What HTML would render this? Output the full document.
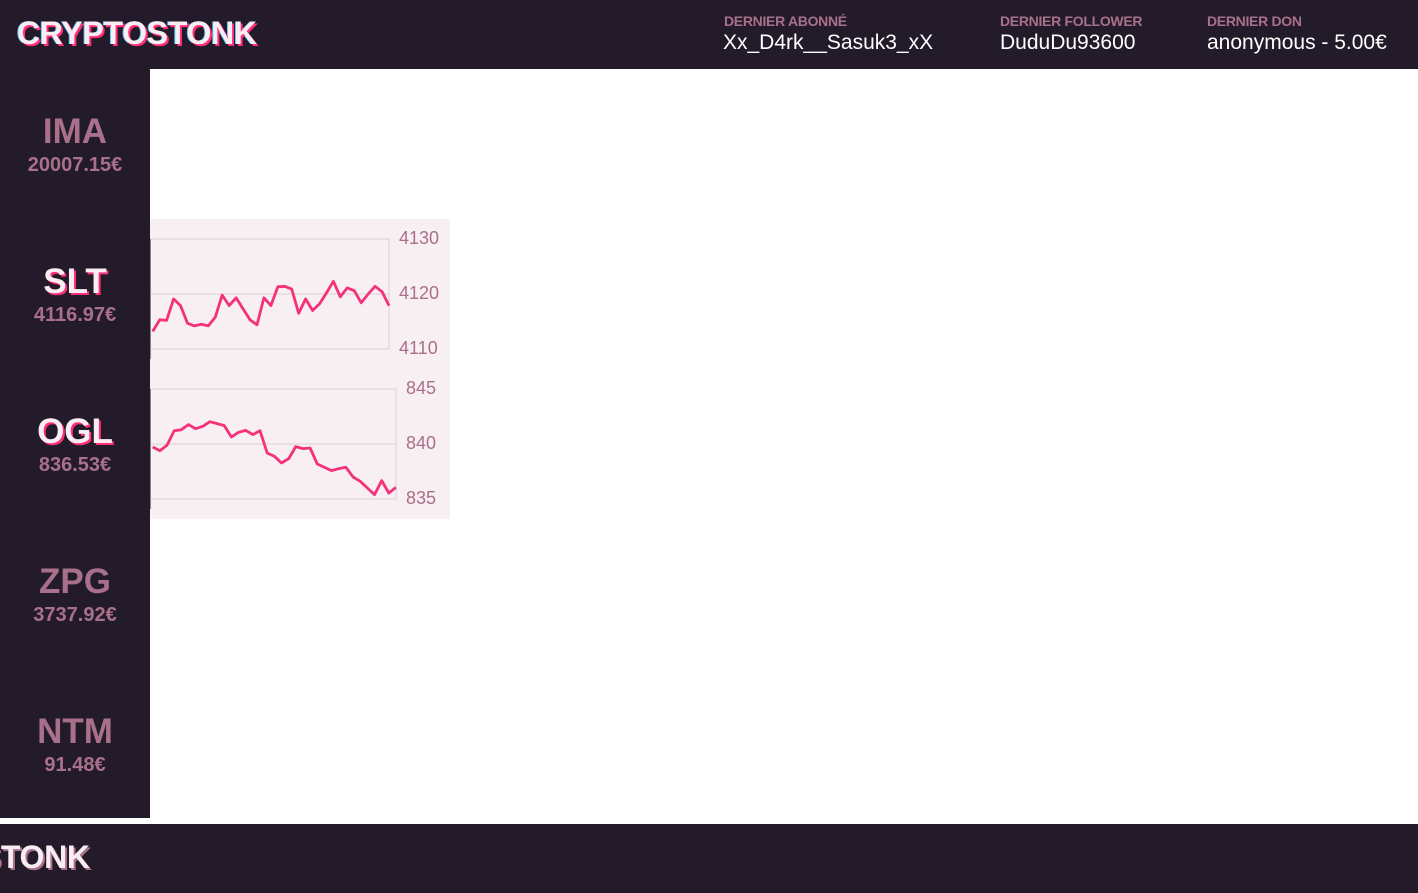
<!DOCTYPE html>
<html><head><meta charset="utf-8">
<style>
*{margin:0;padding:0;box-sizing:border-box}
body{width:1418px;height:893px;background:#fff;position:relative;overflow:hidden;font-family:"Liberation Sans",sans-serif}
.dark{background:#241b2a;position:absolute;overflow:hidden}
.logo{position:absolute;font-weight:900;font-size:32px;color:#f8eef2;letter-spacing:-0.3px;white-space:nowrap;text-shadow:2px 2px 0 #ff2e78,-1px 0 0 #5cc8ff}
.lbl{position:absolute;top:13px;font-size:14px;font-weight:bold;color:#a8708a;letter-spacing:-0.3px}
.val{position:absolute;top:31px;font-size:21px;color:#fff}
.tk{position:absolute;width:150px;text-align:center}
.tk .s{font-size:35px;font-weight:bold;color:#a8708a}
.tk .p{font-size:20px;font-weight:bold;color:#a8708a;margin-top:2px}
.tk.act .s{color:#f8eef2;text-shadow:2px 2px 0 #ff2e78}
</style></head><body>
<div class="dark" style="left:0;top:0;width:1418px;height:69px">
  <div class="logo" style="left:17px;top:15px">CRYPTOSTONK</div>
  <div class="lbl" style="left:724px">DERNIER ABONNÉ</div>
  <div class="val" style="left:723px">Xx_D4rk__Sasuk3_xX</div>
  <div class="lbl" style="left:1000px">DERNIER FOLLOWER</div>
  <div class="val" style="left:1000px">DuduDu93600</div>
  <div class="lbl" style="left:1207px">DERNIER DON</div>
  <div class="val" style="left:1207px">anonymous - 5.00€</div>
</div>
<div class="dark" style="left:0;top:69px;width:150px;height:749px">
  <div class="tk" style="top:43px"><div class="s">IMA</div><div class="p">20007.15€</div></div>
  <div class="tk act" style="top:193px"><div class="s">SLT</div><div class="p">4116.97€</div></div>
  <div class="tk act" style="top:343px"><div class="s">OGL</div><div class="p">836.53€</div></div>
  <div class="tk" style="top:493px"><div class="s">ZPG</div><div class="p">3737.92€</div></div>
  <div class="tk" style="top:643px"><div class="s">NTM</div><div class="p">91.48€</div></div>
</div>
<div class="dark" style="left:0;top:824px;width:1418px;height:69px">
  <div class="logo" style="left:-150px;top:15px;text-shadow:2px 2px 0 #a8708a">CRYPTOSTONK</div>
</div>
<svg id="ch" style="position:absolute;left:150px;top:219px" width="300" height="300"></svg>
<script>
const sltValues=[4113.2,4115.3,4115.2,4119.1,4117.9,4114.7,4114.2,4114.5,4114.2,4115.8,4119.8,4117.9,4119.3,4117.3,4115.3,4114.4,4119.3,4117.9,4121.3,4121.4,4120.9,4116.5,4119.1,4117.0,4118.2,4120.2,4122.3,4119.5,4121.1,4120.6,4118.4,4120.0,4121.4,4120.4,4117.9];
const sltTicks=[4110,4120,4130];
const oglValues=[839.73,839.39,839.88,841.21,841.30,841.76,841.39,841.61,842.03,841.85,841.67,840.64,841.06,841.24,840.85,841.21,839.18,838.88,838.27,838.67,839.76,839.58,839.64,838.18,837.88,837.58,837.76,837.88,837.0,836.61,836.0,835.39,836.67,835.55,836.06];
const oglTicks=[835,840,845];
const NS='http://www.w3.org/2000/svg';
const svg=document.getElementById('ch');
function mk(t,a){const e=document.createElementNS(NS,t);for(const k in a)e.setAttribute(k,a[k]);svg.appendChild(e);return e;}
const bg=mk('rect',{x:0,y:0,width:300,height:300,fill:'#f8eff2'});


function chart(vals,ticks,top,bottom,right,name){
  const lo=ticks[0],hi=ticks[ticks.length-1];
  const y=v=>bottom-(v-lo)/(hi-lo)*(bottom-top);
  const x=i=>2.7+i/(vals.length-1)*(right-2.7);
  ticks.forEach(t=>{
    const g=mk('line',{x1:0,x2:right,y1:y(t),y2:y(t),stroke:'#dccfd5','stroke-width':1});
    
    
    const tx=mk('text',{x:right+10,y:y(t)+5,fill:'#a8708a','font-size':18,'font-family':'Liberation Sans, sans-serif'});
    tx.textContent=t;
    
    
  });
  const ax=mk('line',{x1:right,x2:right,y1:top,y2:bottom,stroke:'#dccfd5'});
  
  
  const la=mk('line',{x1:0.5,x2:0.5,y1:top,y2:bottom+10,stroke:'#888'});
  
  
  const p=mk('polyline',{points:vals.map((v,i)=>x(i).toFixed(1)+','+y(v).toFixed(1)).join(' '),fill:'none',stroke:'#f4327a','stroke-width':2.8,'stroke-linejoin':'round'});
  
  
}
chart(sltValues,sltTicks,20,130,239,'slt');
chart(oglValues,oglTicks,170,280,246,'ogl');
</script>
</body></html>
